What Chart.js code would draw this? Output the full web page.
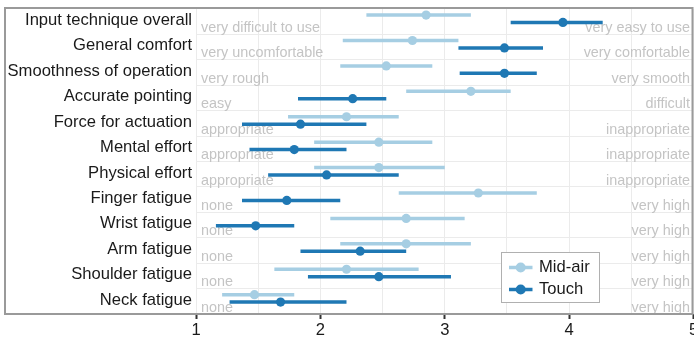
<!DOCTYPE html>
<html><head><meta charset="utf-8">
<script src="https://cdn.jsdelivr.net/npm/chart.js@4/dist/chart.umd.min.js"></script>
<style>html,body{margin:0;padding:0;background:#fff;overflow:hidden}canvas{display:block}</style>
</head><body>
<canvas id="c" width="694" height="337"></canvas>
<script>
const categories = ['Input technique overall','General comfort','Smoothness of operation','Accurate pointing','Force for actuation','Mental effort','Physical effort','Finger fatigue','Wrist fatigue','Arm fatigue','Shoulder fatigue','Neck fatigue'];
const leftAnchors = ['very difficult to use','very uncomfortable','very rough','easy','appropriate','appropriate','appropriate','none','none','none','none','none'];
const rightAnchors = ['very easy to use','very comfortable','very smooth','difficult','inappropriate','inappropriate','inappropriate','very high','very high','very high','very high','very high'];
const seriesNames = ['Mid-air','Touch'];
const midairLow  = [2.37,2.18,2.16,2.69,1.74,1.95,1.95,2.63,2.08,2.16,1.63,1.21];
const midairMean = [2.85,2.74,2.53,3.21,2.21,2.47,2.47,3.27,2.69,2.69,2.21,1.47];
const midairHigh = [3.21,3.11,2.90,3.53,2.63,2.90,3.00,3.74,3.16,3.21,2.79,1.79];
const touchLow   = [3.53,3.11,3.12,1.82,1.37,1.43,1.58,1.37,1.16,1.84,1.90,1.27];
const touchMean  = [3.95,3.48,3.48,2.26,1.84,1.79,2.05,1.73,1.48,2.32,2.47,1.68];
const touchHigh  = [4.27,3.79,3.74,2.53,2.37,2.21,2.63,2.16,1.79,2.69,3.05,2.21];
const xTickValues = [1,1.5,2,2.5,3,3.5,4,4.5,5];

const FONT = 'Liberation Sans, Arial, Helvetica, sans-serif';
const C_MID = '#a6cee3', C_TOUCH = '#1f78b4';
const OFF_MID = 0.24, OFF_TOUCH = 0.53, OFF_LABEL = 0.45, OFF_NOTE = 0.75;

function barData(lo, hi, off){ const d=[]; lo.forEach((l,i)=>{ d.push({x:l,y:i+off},{x:hi[i],y:i+off},{x:null,y:null}); }); return d; }
function dotData(m, off){ return m.map((v,i)=>({x:v,y:i+off})); }
function rowTicks(off){ return categories.map((c,i)=>({value:i+off})); }
function noPad(s){ s.paddingTop = 0; s.paddingBottom = 0; s.paddingLeft = 0; s.paddingRight = 0; }

const framePlugin = {
  id:'frame',
  afterDraw(chart){
    const ctx = chart.ctx; ctx.save();
    ctx.strokeStyle = '#9a9a9a'; ctx.lineWidth = 2;
    ctx.strokeRect(5, 8, 687.5, 306);
    // legend
    ctx.fillStyle = '#fff'; ctx.fillRect(502,253,97,49);
    ctx.strokeStyle = '#b0b0b0'; ctx.lineWidth = 1; ctx.strokeRect(501.5,252.5,98,50);
    const items = [[seriesNames[0], C_MID, 267.5],[seriesNames[1], C_TOUCH, 289.5]];
    items.forEach(([t,c,y])=>{
      ctx.strokeStyle = c; ctx.lineWidth = 3.5; ctx.beginPath(); ctx.moveTo(509,y); ctx.lineTo(532.5,y); ctx.stroke();
      ctx.fillStyle = c; ctx.beginPath(); ctx.arc(520.7,y,5,0,Math.PI*2); ctx.fill();
      ctx.fillStyle = '#1a1a1a'; ctx.font = '16.6px ' + FONT; ctx.textBaseline = 'middle'; ctx.textAlign='left';
      ctx.fillText(t, 539, y);
    });
    ctx.restore();
  }
};

new Chart(document.getElementById('c'), {
  type:'scatter',
  data:{ datasets:[
    {label:seriesNames[0]+' mean', data:dotData(midairMean,OFF_MID), pointRadius:4.6, pointBorderWidth:0, backgroundColor:C_MID, borderColor:C_MID, showLine:false, order:0, xAxisID:'x', yAxisID:'y'},
    {label:seriesNames[1]+' mean', data:dotData(touchMean,OFF_TOUCH), pointRadius:4.6, pointBorderWidth:0, backgroundColor:C_TOUCH, borderColor:C_TOUCH, showLine:false, order:0, xAxisID:'x', yAxisID:'y'},
    {label:seriesNames[0], data:barData(midairLow,midairHigh,OFF_MID), showLine:true, spanGaps:false, pointRadius:0, borderWidth:3.5, borderColor:C_MID, borderCapStyle:'butt', order:1, xAxisID:'x', yAxisID:'y'},
    {label:seriesNames[1], data:barData(touchLow,touchHigh,OFF_TOUCH), showLine:true, spanGaps:false, pointRadius:0, borderWidth:3.5, borderColor:C_TOUCH, borderCapStyle:'butt', order:1, xAxisID:'x', yAxisID:'y'}
  ]},
  options:{
    responsive:false, animation:false, devicePixelRatio:1,
    layout:{ padding:{left:0, right:0.5, top:9, bottom:0}, autoPadding:false },
    plugins:{ legend:{display:false}, tooltip:{enabled:false} },
    scales:{
      x:{ type:'linear', min:1, max:5, position:'bottom',
        afterBuildTicks:s=>{ s.ticks = xTickValues.map(v=>({value:v})); },
        ticks:{ autoSkip:false, maxRotation:0, padding:1, color:'#1a1a1a', font:{family:FONT, size:16.6},
          callback:v=> Number.isInteger(v) ? String(v) : '' },
        grid:{ color:'#ebebeb', lineWidth:1, drawTicks:true, tickLength:5, tickWidth:2,
          tickColor:c=> (c.tick && Number.isInteger(c.tick.value)) ? '#333333' : 'rgba(0,0,0,0)' },
        border:{display:false},
        afterFit:s=>{ s.height = 23; noPad(s); } },
      y:{ type:'linear', min:0, max:12, reverse:true, position:'left', weight:0,
        afterBuildTicks:s=>{ s.ticks = [0,1,2,3,4,5,6,7,8,9,10,11,12].map(v=>({value:v})); },
        ticks:{display:false}, grid:{ drawTicks:false, lineWidth:1,
          color:c=> (c.tick && (c.tick.value===0 || c.tick.value===12)) ? 'rgba(0,0,0,0)' : '#ebebeb' },
        border:{display:false}, afterFit:s=>{ s.width = 0; noPad(s); } },
      yLabels:{ type:'linear', min:0, max:12, reverse:true, position:'left', weight:10,
        afterBuildTicks:s=>{ s.ticks = rowTicks(OFF_LABEL); },
        ticks:{ autoSkip:false, padding:4, color:'#1a1a1a', font:{family:FONT, size:16.6},
          callback:(v,i)=> categories[i] },
        grid:{display:false, drawTicks:false}, border:{display:false}, afterFit:s=>{ s.width = 196; noPad(s); } },
      yLeftNote:{ type:'linear', min:0, max:12, reverse:true, position:'left', weight:0,
        afterBuildTicks:s=>{ s.ticks = rowTicks(OFF_NOTE); },
        ticks:{ autoSkip:false, mirror:true, padding:5, color:'#c4c4c4', font:{family:FONT, size:14.4},
          callback:(v,i)=> leftAnchors[i] },
        grid:{display:false, drawTicks:false}, border:{display:false}, afterFit:s=>{ s.width = 0; noPad(s); } },
      yRightNote:{ type:'linear', min:0, max:12, reverse:true, position:'right',
        afterBuildTicks:s=>{ s.ticks = rowTicks(OFF_NOTE); },
        ticks:{ autoSkip:false, mirror:true, padding:-3.5, color:'#c4c4c4', font:{family:FONT, size:14.4},
          callback:(v,i)=> rightAnchors[i] },
        grid:{display:false, drawTicks:false}, border:{display:false}, afterFit:s=>{ s.width = 0; noPad(s); } }
    }
  },
  plugins:[framePlugin]
});
</script>
</body></html>
